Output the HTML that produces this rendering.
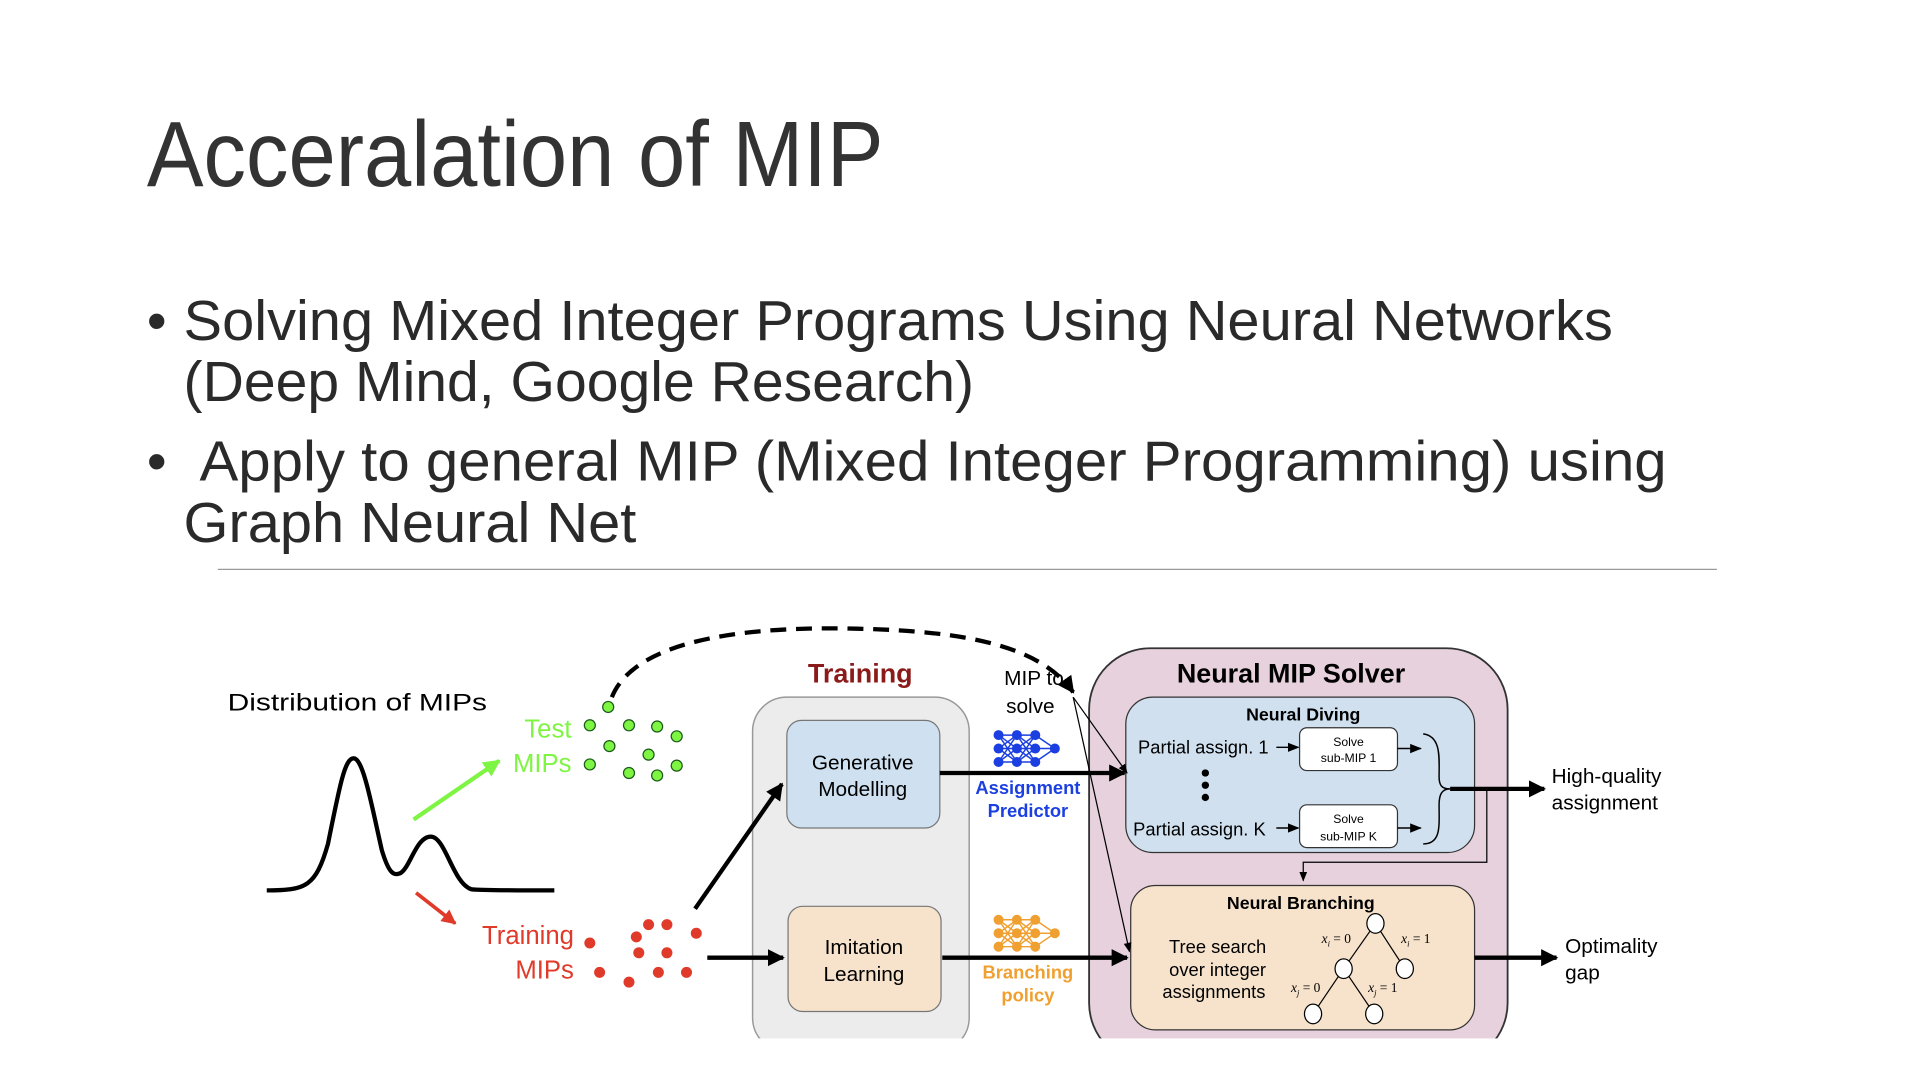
<!DOCTYPE html>
<html><head><meta charset="utf-8"><style>
html,body{margin:0;padding:0;background:#fff;}
svg{display:block;}
</style></head><body>
<svg width="1920" height="1080" viewBox="0 0 1569 883" preserveAspectRatio="none" xmlns="http://www.w3.org/2000/svg" font-family="Liberation Sans, DejaVu Sans, sans-serif">
<defs>
<marker id="ah" viewBox="0 0 10 10" refX="9" refY="5" markerWidth="4" markerHeight="4" orient="auto" markerUnits="strokeWidth"><path d="M0,0L10,5L0,10z" fill="#000"/></marker>
<marker id="ahs" viewBox="0 0 10 10" refX="9" refY="5" markerWidth="8" markerHeight="8" orient="auto" markerUnits="strokeWidth"><path d="M0,1L10,5L0,9z" fill="#000"/></marker>
<marker id="ahg" viewBox="0 0 10 10" refX="9" refY="5" markerWidth="4" markerHeight="4" orient="auto" markerUnits="strokeWidth"><path d="M0,0L10,5L0,10z" fill="#7ef542"/></marker>
<marker id="ahr" viewBox="0 0 10 10" refX="9" refY="5" markerWidth="4" markerHeight="4" orient="auto" markerUnits="strokeWidth"><path d="M0,0L10,5L0,10z" fill="#e03a2a"/></marker>
</defs>
<text x="120" y="152" font-size="76" fill="#333" textLength="602" lengthAdjust="spacingAndGlyphs">Acceralation of MIP</text>
<g font-size="46" fill="#2a2a2a">
<text x="120" y="278">•</text>
<text x="150" y="278" textLength="1168" lengthAdjust="spacingAndGlyphs">Solving Mixed Integer Programs Using Neural Networks</text>
<text x="150" y="328" textLength="646" lengthAdjust="spacingAndGlyphs">(Deep Mind, Google Research)</text>
<text x="120" y="393">•</text>
<text x="163" y="393" textLength="1199" lengthAdjust="spacingAndGlyphs">Apply to general MIP (Mixed Integer Programming) using</text>
<text x="150" y="443" textLength="370" lengthAdjust="spacingAndGlyphs">Graph Neural Net</text>
</g>
<line x1="178" y1="465.5" x2="1403" y2="465.5" stroke="#999" stroke-width="1"/>

<text x="186" y="581" font-size="20" textLength="212" lengthAdjust="spacingAndGlyphs">Distribution of MIPs</text>
<path d="M218,728 C250,728 258,725 268,690 C278,640 282,620 289,620 C297,620 304,660 312,695 C318,715 322,716 327,714 C335,710 340,684 352,684 C364,684 370,722 385,727 C392,728 420,728 453,728" fill="none" stroke="#000" stroke-width="3.5"/>
<line x1="338" y1="670" x2="408" y2="622" stroke="#7ef542" stroke-width="3.5" marker-end="url(#ahg)"/>
<line x1="340" y1="730" x2="372" y2="755" stroke="#e03a2a" stroke-width="3" marker-end="url(#ahr)"/>
<g font-size="21" text-anchor="end">
<text x="467" y="603" fill="#7ef542">Test</text>
<text x="467" y="631" fill="#7ef542">MIPs</text>
<text x="469" y="772" fill="#e03a2a">Training</text>
<text x="469" y="800" fill="#e03a2a">MIPs</text>
</g>
<g fill="#7ef542" stroke="#1a5a1a" stroke-width="1">
<circle cx="497" cy="578" r="4.5"/><circle cx="482" cy="593" r="4.5"/><circle cx="514" cy="593" r="4.5"/><circle cx="537" cy="594" r="4.5"/><circle cx="553" cy="602" r="4.5"/><circle cx="498" cy="610" r="4.5"/><circle cx="530" cy="617" r="4.5"/><circle cx="482" cy="625" r="4.5"/><circle cx="553" cy="626" r="4.5"/><circle cx="514" cy="632" r="4.5"/><circle cx="537" cy="634" r="4.5"/>
</g>
<g fill="#e03a2a">
<circle cx="530" cy="756" r="4.5"/><circle cx="545" cy="756" r="4.5"/><circle cx="520" cy="766" r="4.5"/><circle cx="569" cy="763" r="4.5"/><circle cx="482" cy="771" r="4.5"/><circle cx="522" cy="779" r="4.5"/><circle cx="545" cy="779" r="4.5"/><circle cx="490" cy="795" r="4.5"/><circle cx="538" cy="795" r="4.5"/><circle cx="561" cy="795" r="4.5"/><circle cx="514" cy="803" r="4.5"/>
</g>
<path d="M500,570 C520,520 620,512 700,514 C790,516 850,528 877,566" fill="none" stroke="#000" stroke-width="3.5" stroke-dasharray="13,8" marker-end="url(#ah)"/>

<text x="703" y="558" font-size="22" font-weight="bold" fill="#8b1a1a" text-anchor="middle">Training</text>
<rect x="615" y="570" width="177" height="290" rx="28" fill="#ececec" stroke="#999" stroke-width="1.2"/>
<rect x="643" y="589" width="125" height="88" rx="12" fill="#cfe0f0" stroke="#777" stroke-width="1"/>
<rect x="644" y="741" width="125" height="86" rx="12" fill="#f7e3cc" stroke="#777" stroke-width="1"/>
<line x1="568" y1="743" x2="639" y2="641" stroke="#000" stroke-width="3.5" marker-end="url(#ah)"/>
<line x1="578" y1="783" x2="640" y2="783" stroke="#000" stroke-width="3.5" marker-end="url(#ah)"/>
<g font-size="17" text-anchor="middle">
<text x="705" y="629">Generative</text><text x="705" y="651">Modelling</text>
<text x="706" y="780">Imitation</text><text x="706" y="802">Learning</text>
<text x="845" y="560">MIP to</text><text x="842" y="583">solve</text>
</g>

<g stroke="#1b3fe0" stroke-width="1.2" fill="#1b3fe0">
<path d="M816,601L831,601M816,601L831,612M816,601L831,623M816,612L831,601M816,612L831,612M816,612L831,623M816,623L831,601M816,623L831,612M816,623L831,623M831,601L846,601M831,601L846,612M831,601L846,623M831,612L846,601M831,612L846,612M831,612L846,623M831,623L846,601M831,623L846,612M831,623L846,623M846,601L862,612M846,612L862,612M846,623L862,612" fill="none"/>
<circle cx="816" cy="601" r="3.5"/><circle cx="816" cy="612" r="3.5"/><circle cx="816" cy="623" r="3.5"/>
<circle cx="831" cy="601" r="3.5"/><circle cx="831" cy="612" r="3.5"/><circle cx="831" cy="623" r="3.5"/>
<circle cx="846" cy="601" r="3.5"/><circle cx="846" cy="612" r="3.5"/><circle cx="846" cy="623" r="3.5"/>
<circle cx="862" cy="612" r="3.5"/>
</g>
<g transform="translate(0,151)" stroke="#f0a030" fill="#f0a030" stroke-width="1.2">
<path d="M816,601L831,601M816,601L831,612M816,601L831,623M816,612L831,601M816,612L831,612M816,612L831,623M816,623L831,601M816,623L831,612M816,623L831,623M831,601L846,601M831,601L846,612M831,601L846,623M831,612L846,601M831,612L846,612M831,612L846,623M831,623L846,601M831,623L846,612M831,623L846,623M846,601L862,612M846,612L862,612M846,623L862,612" fill="none"/>
<circle cx="816" cy="601" r="3.5"/><circle cx="816" cy="612" r="3.5"/><circle cx="816" cy="623" r="3.5"/>
<circle cx="831" cy="601" r="3.5"/><circle cx="831" cy="612" r="3.5"/><circle cx="831" cy="623" r="3.5"/>
<circle cx="846" cy="601" r="3.5"/><circle cx="846" cy="612" r="3.5"/><circle cx="846" cy="623" r="3.5"/>
<circle cx="862" cy="612" r="3.5"/>
</g>
<g font-size="15" font-weight="bold" text-anchor="middle">
<text x="840" y="649" fill="#1b3fe0">Assignment</text><text x="840" y="668" fill="#1b3fe0">Predictor</text>
<text x="840" y="800" fill="#f0a030">Branching</text><text x="840" y="819" fill="#f0a030">policy</text>
</g>

<rect x="890" y="530" width="342" height="340" rx="50" fill="#e6d1dc" stroke="#333" stroke-width="1.5"/>
<text x="1055" y="558" font-size="22" font-weight="bold" text-anchor="middle">Neural MIP Solver</text>
<rect x="920" y="570" width="285" height="127" rx="22" fill="#d0e0ef" stroke="#333" stroke-width="1"/>
<text x="1065" y="589" font-size="14.5" font-weight="bold" text-anchor="middle">Neural Diving</text>
<text x="930" y="616" font-size="15">Partial assign. 1</text>
<text x="926" y="683" font-size="15">Partial assign. K</text>
<line x1="1043" y1="611" x2="1061" y2="611" stroke="#000" stroke-width="1.2" marker-end="url(#ahs)"/>
<line x1="1043" y1="677" x2="1061" y2="677" stroke="#000" stroke-width="1.2" marker-end="url(#ahs)"/>
<rect x="1062" y="595" width="80" height="35" rx="6" fill="#fff" stroke="#333" stroke-width="1"/>
<rect x="1062" y="658" width="80" height="35" rx="6" fill="#fff" stroke="#333" stroke-width="1"/>
<g font-size="10" text-anchor="middle">
<text x="1102" y="610">Solve</text><text x="1102" y="623">sub-MIP 1</text>
<text x="1102" y="673">Solve</text><text x="1102" y="687">sub-MIP K</text>
</g>
<line x1="1142" y1="612" x2="1161" y2="612" stroke="#000" stroke-width="1.2" marker-end="url(#ahs)"/>
<line x1="1142" y1="677" x2="1161" y2="677" stroke="#000" stroke-width="1.2" marker-end="url(#ahs)"/>
<circle cx="985" cy="632" r="3"/><circle cx="985" cy="642" r="3"/><circle cx="985" cy="652" r="3"/>
<path d="M1163,600 C1178,602 1176,620 1176,635 C1176,642 1178,645 1185,645 C1178,645 1176,650 1176,658 C1176,675 1178,690 1163,690" fill="none" stroke="#000" stroke-width="1.2"/>
<line x1="1185" y1="645" x2="1262" y2="645" stroke="#000" stroke-width="3.5" marker-end="url(#ah)"/>
<path d="M1215,645 L1215,705 L1065,705 L1065,720" fill="none" stroke="#000" stroke-width="1" marker-end="url(#ahs)"/>

<rect x="924" y="724" width="281" height="118" rx="20" fill="#f7e3cc" stroke="#333" stroke-width="1"/>
<text x="1063" y="743" font-size="14.5" font-weight="bold" text-anchor="middle">Neural Branching</text>
<g font-size="15" text-anchor="middle">
<text x="995" y="779">Tree search</text><text x="995" y="798">over integer</text><text x="992" y="816">assignments</text>
</g>
<g stroke="#000" stroke-width="1" fill="#fff">
<line x1="1124" y1="755" x2="1098" y2="792"/><line x1="1124" y1="755" x2="1148" y2="792"/>
<line x1="1098" y1="792" x2="1073" y2="829"/><line x1="1098" y1="792" x2="1123" y2="829"/>
<ellipse cx="1124" cy="755" rx="7" ry="8"/><ellipse cx="1098" cy="792" rx="7" ry="8"/><ellipse cx="1148" cy="792" rx="7" ry="8"/><ellipse cx="1073" cy="829" rx="7" ry="8"/><ellipse cx="1123" cy="829" rx="7" ry="8"/>
</g>
<g font-family="Liberation Serif, serif" font-size="11" font-style="italic">
<text x="1080" y="771">x<tspan font-size="7" dy="3">i</tspan><tspan dy="-3" font-style="normal"> = 0</tspan></text>
<text x="1145" y="771">x<tspan font-size="7" dy="3">i</tspan><tspan dy="-3" font-style="normal"> = 1</tspan></text>
<text x="1055" y="811">x<tspan font-size="7" dy="3">j</tspan><tspan dy="-3" font-style="normal"> = 0</tspan></text>
<text x="1118" y="811">x<tspan font-size="7" dy="3">j</tspan><tspan dy="-3" font-style="normal"> = 1</tspan></text>
</g>
<line x1="768" y1="632" x2="919" y2="632" stroke="#000" stroke-width="3.5" marker-end="url(#ah)"/>
<line x1="770" y1="783" x2="921" y2="783" stroke="#000" stroke-width="3.5" marker-end="url(#ah)"/>
<line x1="877" y1="570" x2="921" y2="632" stroke="#000" stroke-width="1" marker-end="url(#ahs)"/>
<line x1="877" y1="570" x2="923" y2="778" stroke="#000" stroke-width="1" marker-end="url(#ahs)"/>
<line x1="1205" y1="783" x2="1272" y2="783" stroke="#000" stroke-width="3.5" marker-end="url(#ah)"/>
<g font-size="17">
<text x="1268" y="640">High-quality</text><text x="1268" y="662">assignment</text>
<text x="1279" y="779">Optimality</text><text x="1279" y="801">gap</text>
</g>
<rect x="600" y="849" width="700" height="40" fill="#fff"/>
</svg>
</body></html>
